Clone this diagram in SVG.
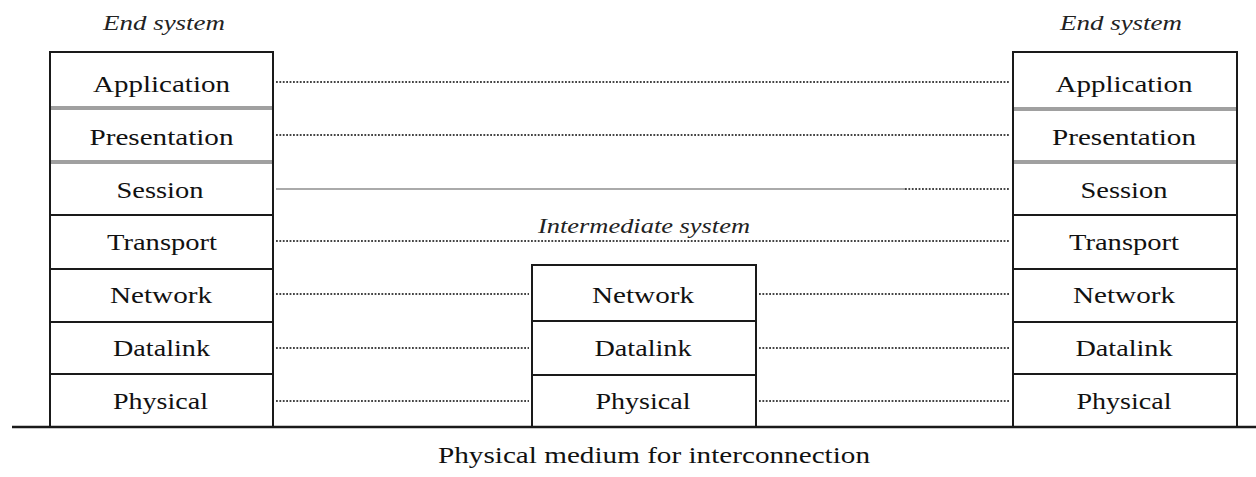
<svg xmlns="http://www.w3.org/2000/svg" width="1256" height="477" viewBox="0 0 1256 477">
<style>
.box{fill:#fff;stroke:#1a1a1a;stroke-width:2}
.sep{stroke:#a0a0a0;stroke-width:4}
.lbl{font-family:"Liberation Serif","DejaVu Serif",serif;font-size:23px;fill:#111;text-anchor:middle}
.it{font-family:"Liberation Serif","DejaVu Serif",serif;font-size:22px;font-style:italic;fill:#222;text-anchor:middle}
.dot{stroke:#444;stroke-width:2;stroke-dasharray:1.8 1.6;fill:none}
.solid{stroke:#aaa;stroke-width:2;fill:none}
.medium{stroke:#1a1a1a;stroke-width:2.5}
</style>
<rect width="1256" height="477" fill="#fff"/>

<g id="connectors">
  <line class="dot" x1="276" y1="82" x2="1010" y2="82"/>
  <line class="dot" x1="276" y1="135" x2="1010" y2="135"/>
  <line class="solid" x1="276" y1="189" x2="905" y2="189"/>
  <line class="dot" x1="905" y1="189" x2="1010" y2="189"/>
  <line class="dot" x1="276" y1="241" x2="1010" y2="241"/>
  <line class="dot" x1="276" y1="294" x2="529" y2="294"/>
  <line class="dot" x1="759" y1="294" x2="1010" y2="294"/>
  <line class="dot" x1="276" y1="348" x2="529" y2="348"/>
  <line class="dot" x1="759" y1="348" x2="1010" y2="348"/>
  <line class="dot" x1="276" y1="401" x2="529" y2="401"/>
  <line class="dot" x1="759" y1="401" x2="1010" y2="401"/>
</g>

<g id="left-end-system">
  <text class="it" x="164" y="30" textLength="122" lengthAdjust="spacingAndGlyphs">End system</text>
  <g id="left-application"><rect class="box" x="50" y="52" width="223" height="56"/><text class="lbl" x="161.5" y="92" textLength="137" lengthAdjust="spacingAndGlyphs">Application</text></g>
  <g id="left-presentation"><rect class="box" x="50" y="108" width="223" height="54"/><text class="lbl" x="161.5" y="145" textLength="144" lengthAdjust="spacingAndGlyphs">Presentation</text></g>
  <g id="left-session"><rect class="box" x="50" y="162" width="223" height="53"/><text class="lbl" x="160" y="198" textLength="87" lengthAdjust="spacingAndGlyphs">Session</text></g>
  <g id="left-transport"><rect class="box" x="50" y="215" width="223" height="54"/><text class="lbl" x="162" y="250" textLength="110" lengthAdjust="spacingAndGlyphs">Transport</text></g>
  <g id="left-network"><rect class="box" x="50" y="269" width="223" height="53"/><text class="lbl" x="161" y="303" textLength="102" lengthAdjust="spacingAndGlyphs">Network</text></g>
  <g id="left-datalink"><rect class="box" x="50" y="322" width="223" height="52"/><text class="lbl" x="161.5" y="356" textLength="97" lengthAdjust="spacingAndGlyphs">Datalink</text></g>
  <g id="left-physical"><rect class="box" x="50" y="374" width="223" height="53"/><text class="lbl" x="160.5" y="409" textLength="95" lengthAdjust="spacingAndGlyphs">Physical</text></g>
  <line class="sep" x1="51" y1="108" x2="272" y2="108"/>
  <line class="sep" x1="51" y1="162" x2="272" y2="162"/>
</g>

<g id="intermediate-system">
  <text class="it" x="644" y="233" textLength="212" lengthAdjust="spacingAndGlyphs">Intermediate system</text>
  <g id="mid-network"><rect class="box" x="532" y="265" width="224" height="56"/><text class="lbl" x="643" y="303" textLength="102" lengthAdjust="spacingAndGlyphs">Network</text></g>
  <g id="mid-datalink"><rect class="box" x="532" y="321" width="224" height="54"/><text class="lbl" x="643" y="356" textLength="97" lengthAdjust="spacingAndGlyphs">Datalink</text></g>
  <g id="mid-physical"><rect class="box" x="532" y="375" width="224" height="52"/><text class="lbl" x="643" y="409" textLength="95" lengthAdjust="spacingAndGlyphs">Physical</text></g>
</g>

<g id="right-end-system">
  <text class="it" x="1121" y="30" textLength="122" lengthAdjust="spacingAndGlyphs">End system</text>
  <g id="right-application"><rect class="box" x="1013" y="52" width="224" height="57"/><text class="lbl" x="1124" y="92" textLength="137" lengthAdjust="spacingAndGlyphs">Application</text></g>
  <g id="right-presentation"><rect class="box" x="1013" y="109" width="224" height="53"/><text class="lbl" x="1124" y="145" textLength="144" lengthAdjust="spacingAndGlyphs">Presentation</text></g>
  <g id="right-session"><rect class="box" x="1013" y="162" width="224" height="53"/><text class="lbl" x="1124" y="198" textLength="87" lengthAdjust="spacingAndGlyphs">Session</text></g>
  <g id="right-transport"><rect class="box" x="1013" y="215" width="224" height="54"/><text class="lbl" x="1124" y="250" textLength="110" lengthAdjust="spacingAndGlyphs">Transport</text></g>
  <g id="right-network"><rect class="box" x="1013" y="269" width="224" height="53"/><text class="lbl" x="1124" y="303" textLength="102" lengthAdjust="spacingAndGlyphs">Network</text></g>
  <g id="right-datalink"><rect class="box" x="1013" y="322" width="224" height="52"/><text class="lbl" x="1124" y="356" textLength="97" lengthAdjust="spacingAndGlyphs">Datalink</text></g>
  <g id="right-physical"><rect class="box" x="1013" y="374" width="224" height="53"/><text class="lbl" x="1124" y="409" textLength="95" lengthAdjust="spacingAndGlyphs">Physical</text></g>
  <line class="sep" x1="1014" y1="109" x2="1236" y2="109"/>
  <line class="sep" x1="1014" y1="162" x2="1236" y2="162"/>
</g>

<g id="physical-medium">
  <line class="medium" x1="12" y1="427" x2="1256" y2="427"/>
  <text class="lbl" x="654" y="463" textLength="432" lengthAdjust="spacingAndGlyphs">Physical medium for interconnection</text>
</g>
</svg>
